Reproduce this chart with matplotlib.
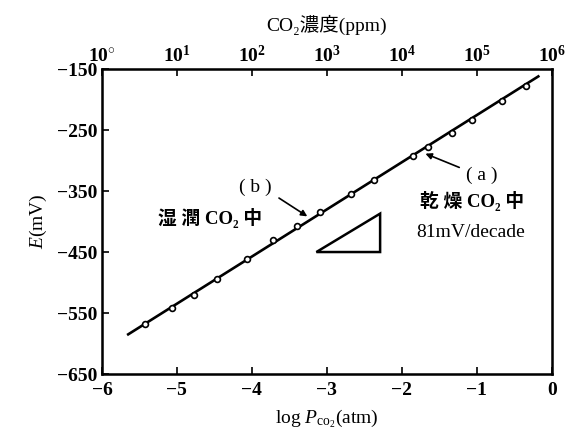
import matplotlib
matplotlib.use("Agg")
import matplotlib.pyplot as plt
from matplotlib.patches import Polygon

plt.rcParams['font.family'] = ['Liberation Serif', 'Noto Sans CJK JP', 'DejaVu Serif']
plt.rcParams['mathtext.fontset'] = 'custom'
plt.rcParams['mathtext.rm'] = 'Liberation Serif'
plt.rcParams['mathtext.it'] = 'Liberation Serif:italic'
plt.rcParams['mathtext.bf'] = 'Liberation Serif:bold'

# data
log_p = [-5.42, -5.06, -4.77, -4.46, -4.06, -3.72, -3.40, -3.09, -2.68, -2.37,
         -1.85, -1.65, -1.33, -1.06, -0.67, -0.35]
e_mv = [-568, -541, -520, -494, -462, -431, -407, -384, -355, -332,
        -292, -278, -254, -234, -203, -178]
fit_x = [-5.65, -0.18]
fit_y = [-585, -162]
x_ticks = [-6, -5, -4, -3, -2, -1, 0]
x_ticklabels = ['−6', '−5', '−4', '−3', '−2', '−1', '0']
y_ticks = [-150, -250, -350, -450, -550, -650]
y_ticklabels = ['−150', '−250', '−350', '−450', '−550', '−650']
top_ticks = [-6, -5, -4, -3, -2, -1, 0]
top_ticklabels = ['$\\mathbf{10^{\\circ}}$', '$\\mathbf{10^{1}}$', '$\\mathbf{10^{2}}$',
                  '$\\mathbf{10^{3}}$', '$\\mathbf{10^{4}}$', '$\\mathbf{10^{5}}$',
                  '$\\mathbf{10^{6}}$']
tri_x = [-3.14, -2.29, -2.29]
tri_y = [-450, -450, -387]

fig = plt.figure(figsize=(5.76, 4.40), dpi=100)
ax = fig.add_axes([0.177, 0.150, 0.781, 0.693])

ax.plot(fit_x, fit_y, color='black', lw=1.9, zorder=2)
ax.plot(log_p, e_mv, 'o', ms=4.2, mfc='white', mec='black', mew=1.2, zorder=3)

ax.add_patch(Polygon(list(zip(tri_x, tri_y)), closed=True, fill=False,
                     edgecolor='black', lw=1.8))

ax.set_xlim(-6, 0)
ax.set_ylim(-650, -150)
ax.set_xticks(x_ticks)
ax.set_xticklabels(x_ticklabels)
ax.set_yticks(y_ticks)
ax.set_yticklabels(y_ticklabels)
ax.tick_params(direction='in', length=5, width=1.2, labelsize=14)
ax.tick_params(axis='x', pad=6)
ax.tick_params(axis='y', pad=3)
for lab in ax.get_xticklabels() + ax.get_yticklabels():
    lab.set_fontweight('bold')
for s in ax.spines.values():
    s.set_linewidth(1.8)

ax2 = ax.twiny()
ax2.set_xlim(-6, 0)
ax2.set_xticks(top_ticks)
ax2.set_xticklabels(top_ticklabels)
ax2.tick_params(direction='in', length=5, width=1.2, labelsize=14, pad=2)
ax2.set_xlabel('CO₂濃度(ppm)', fontsize=14, labelpad=10)

ax.set_xlabel('log $P_{\\mathrm{co_2}}$(atm)', fontsize=14, labelpad=6)
ax.set_ylabel('$E$(mV)', fontsize=14, labelpad=6)

# annotations
ax.annotate('', xy=(-3.23, -394), xytext=(-3.67, -359),
            arrowprops=dict(arrowstyle='-|>', color='black', lw=1.2,
                            mutation_scale=9))
ax.text(-3.96, -344, '( b )', fontsize=14, ha='center', va='center')
ax.text(-4.56, -394, '湿 潤 CO₂ 中', fontsize=13.5, ha='center', va='center',
        fontweight='bold')

ax.annotate('', xy=(-1.72, -287), xytext=(-1.20, -313),
            arrowprops=dict(arrowstyle='-|>', color='black', lw=1.2,
                            mutation_scale=9))
ax.text(-0.93, -325, '( a )', fontsize=14, ha='center', va='center')
ax.text(-1.07, -367, '乾 燥 CO₂ 中', fontsize=13.5, ha='center', va='center',
        fontweight='bold')
ax.text(-1.08, -418, '81mV/decade', fontsize=14, ha='center', va='center')

fig.savefig('out.png', dpi=100)
